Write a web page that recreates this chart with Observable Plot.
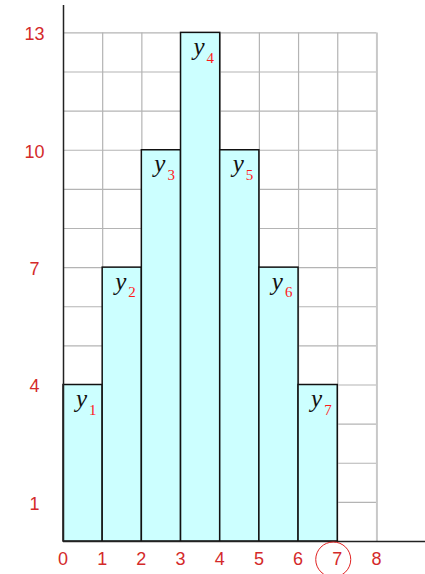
<!DOCTYPE html>
<html>
<head>
<meta charset="utf-8">
<script src="https://cdn.jsdelivr.net/npm/d3@7"></script>
<script src="https://cdn.jsdelivr.net/npm/@observablehq/plot@0.6"></script>
<style>
  html, body { margin: 0; padding: 0; background: white; }
  #chart svg { display: block; }
</style>
</head>
<body>
<div id="chart"></div>
<script>
// Data
const barLeft = [0, 1, 2, 3, 4, 5, 6];
const barHeights = [4, 7, 10, 13, 10, 7, 4];
const subscripts = ["1", "2", "3", "4", "5", "6", "7"];
const yTickLabels = [1, 4, 7, 10, 13];
const xTickLabels = [0, 1, 2, 3, 4, 5, 6, 7, 8];
const gridYValues = [1, 2, 3, 4, 5, 6, 7, 8, 9, 10, 11, 12, 13];
const gridXValues = [1, 2, 3, 4, 5, 6, 7, 8];
const circledTick = [7];

const bars = barLeft.map((x, i) => ({x1: x, x2: x + 1, h: barHeights[i], sub: subscripts[i]}));

const RED = "#d42a2a";
const SUBRED = "#ff1a1a";

const chart = Plot.plot({
  width: 425,
  height: 574,
  marginLeft: 63,
  marginRight: 0,
  marginTop: 5,
  marginBottom: 33,
  x: {domain: [0, 9.24], axis: null},
  y: {domain: [0, 13.7], axis: null},
  style: {background: "white", overflow: "visible"},
  marks: [
    Plot.ruleY(gridYValues, {x1: 0, x2: 8, stroke: "#b4b4b4", strokeWidth: 1.2}),
    Plot.ruleX(gridXValues, {y1: 0, y2: 13, stroke: d => d === 8 ? "#c8c8c8" : "#b4b4b4", strokeWidth: d => d === 8 ? 2 : 1.2}),
    Plot.rect(bars, {x1: "x1", x2: "x2", y1: 0, y2: "h", fill: "#ccffff", stroke: "#111", strokeWidth: 1.5}),
    Plot.ruleX([0], {y1: 0, y2: 13.7, stroke: "#222", strokeWidth: 1.5}),
    Plot.ruleY([0], {x1: 0, x2: 9.24, stroke: "#222", strokeWidth: 1.5}),
    Plot.text(bars, {x: d => (d.x1 + d.x2) / 2, y: "h", text: () => "y", textAnchor: "end", lineAnchor: "bottom", dx: 4, dy: 22, fontSize: 25, fontStyle: "italic", fontFamily: "Liberation Serif", fill: "#111"}),
    Plot.text(bars, {x: d => (d.x1 + d.x2) / 2, y: "h", text: "sub", textAnchor: "start", lineAnchor: "bottom", dx: 6, dy: 29.7, fontSize: 15, fontFamily: "Liberation Serif", fill: SUBRED}),
    Plot.text(yTickLabels, {x: 0, y: d => d, text: d => String(d), textAnchor: "middle", lineAnchor: "middle", dx: -29, dy: 1.5, fontSize: 18, fontFamily: "Liberation Sans", fill: RED}),
    Plot.text(xTickLabels, {x: d => d, y: 0, text: d => String(d), textAnchor: "middle", lineAnchor: "middle", dx: -0.5, dy: 18, fontSize: 18, fontFamily: "Liberation Sans", fill: RED}),
    Plot.dot(circledTick, {x: d => d, y: 0, r: 17.5, dx: -4.5, dy: 18, stroke: "#e02020", strokeWidth: 1, fill: "none"})
  ]
});
document.getElementById("chart").append(chart);
</script>
</body>
</html>
